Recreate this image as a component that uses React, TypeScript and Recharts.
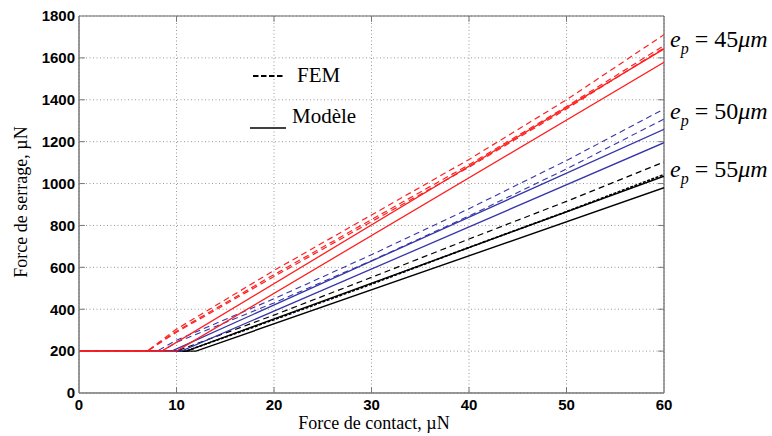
import { LineChart, Line, XAxis, YAxis, CartesianGrid, ReferenceLine } from 'recharts';

const xTicks = [0, 10, 20, 30, 40, 50, 60];
const yTicks = [0, 200, 400, 600, 800, 1000, 1200, 1400, 1600, 1800];

// [force de contact, force de serrage] in µN
// e_p = 45 µm
const fem45a = [[0, 200], [7, 200], [10, 305], [20, 585], [30, 850], [40, 1115], [50, 1400], [60, 1711]];
const fem45b = [[0, 200], [7, 200], [10, 295], [20, 565], [30, 828], [40, 1090], [50, 1368], [60, 1659]];
const fem45c = [[0, 200], [7, 200], [10, 290], [20, 556], [30, 818], [40, 1078], [50, 1356], [60, 1648]];
const mod45a = [[0, 200], [8.5, 200], [60, 1643]];
const mod45b = [[0, 200], [10, 200], [60, 1579]];

// e_p = 50 µm
const fem50a = [[0, 200], [8, 200], [10, 252], [20, 450], [30, 660], [40, 880], [50, 1110], [60, 1356]];
const fem50b = [[0, 200], [8.5, 200], [10, 242], [20, 430], [30, 632], [40, 845], [50, 1070], [60, 1308]];
const mod50a = [[0, 200], [9.5, 200], [60, 1259]];
const mod50b = [[0, 200], [10.5, 200], [60, 1195]];

// e_p = 55 µm
const fem55a = [[0, 200], [10, 200], [20, 372], [30, 552], [40, 735], [50, 915], [60, 1103]];
const fem55b = [[0, 200], [11, 200], [20, 350], [30, 520], [40, 695], [50, 866], [60, 1043]];
const mod55a = [[0, 200], [11, 200], [60, 1035]];
const mod55b = [[0, 200], [12, 200], [60, 980]];

const RED = '#ff1f1f';
const BLUE = '#3535aa';
const BLACK = '#000000';

const toPts = (arr: number[][]) => arr.map(([x, y]) => ({ x, y }));

const series = [
  { key: 'mod55b', data: mod55b, color: BLACK, dash: undefined, w: 1.4 },
  { key: 'mod55a', data: mod55a, color: BLACK, dash: undefined, w: 1.4 },
  { key: 'fem55b', data: fem55b, color: BLACK, dash: '3 1.5', w: 1.7 },
  { key: 'fem55a', data: fem55a, color: BLACK, dash: '6 4', w: 1.2 },
  { key: 'mod50b', data: mod50b, color: BLUE, dash: undefined, w: 1.3 },
  { key: 'mod50a', data: mod50a, color: BLUE, dash: undefined, w: 1.3 },
  { key: 'fem50b', data: fem50b, color: BLUE, dash: '6 4', w: 1.1 },
  { key: 'fem50a', data: fem50a, color: BLUE, dash: '6 4', w: 1.1 },
  { key: 'mod45b', data: mod45b, color: RED, dash: undefined, w: 1.3 },
  { key: 'mod45a', data: mod45a, color: RED, dash: undefined, w: 1.3 },
  { key: 'fem45c', data: fem45c, color: RED, dash: '6 4', w: 1.2 },
  { key: 'fem45b', data: fem45b, color: RED, dash: '6 4', w: 1.2 },
  { key: 'fem45a', data: fem45a, color: RED, dash: '6 4', w: 1.2 },
];

const tickStyle = { fontFamily: 'Liberation Sans, Arial, sans-serif', fontWeight: 700, fontSize: 15, fill: '#000' };
const serif = 'Liberation Serif, Times New Roman, serif';

function EpLabel({ y, value }: { y: number; value: string }) {
  return (
    <text x={670} y={y} fontFamily={serif} fontSize={24} fill="#000">
      <tspan fontStyle="italic">e</tspan>
      <tspan fontStyle="italic" fontSize={16} dy={7}>p</tspan>
      <tspan dy={-7}>{' = ' + value}</tspan>
      <tspan fontStyle="italic">{'\u03bcm'}</tspan>
    </text>
  );
}

export default function App() {
  return (
    <div style={{ position: 'absolute', left: 0, top: 0, width: 772, height: 436, background: '#fff' }}>
      <LineChart width={772} height={436} margin={{ top: 16, right: 108, bottom: 13, left: 19 }}>
        <CartesianGrid stroke="#999" strokeDasharray="1 2.5" />
        <XAxis
          type="number"
          dataKey="x"
          domain={[0, 60]}
          ticks={xTicks}
          allowDataOverflow
          tick={tickStyle}
          tickSize={0}
          tickMargin={6}
          height={30}
          axisLine={{ stroke: '#777', strokeWidth: 1.5 }}
        />
        <YAxis
          type="number"
          domain={[0, 1800]}
          ticks={yTicks}
          allowDataOverflow
          tick={tickStyle}
          tickSize={0}
          tickMargin={4}
          width={60}
          axisLine={{ stroke: '#777', strokeWidth: 1.5 }}
        />
        <ReferenceLine y={1800} stroke="#666" strokeWidth={1.2} />
        <ReferenceLine x={60} stroke="#666" strokeWidth={1.2} />
        {yTicks.slice(1, -1).map((v) => (
          <ReferenceLine key={'l' + v} segment={[{ x: 0, y: v }, { x: 0.6, y: v }]} stroke="#777" />
        ))}
        {yTicks.slice(1, -1).map((v) => (
          <ReferenceLine key={'r' + v} segment={[{ x: 59.4, y: v }, { x: 60, y: v }]} stroke="#777" />
        ))}
        {xTicks.slice(1, -1).map((v) => (
          <ReferenceLine key={'b' + v} segment={[{ x: v, y: 0 }, { x: v, y: 28 }]} stroke="#777" />
        ))}
        {xTicks.slice(1, -1).map((v) => (
          <ReferenceLine key={'t' + v} segment={[{ x: v, y: 1772 }, { x: v, y: 1800 }]} stroke="#777" />
        ))}
        {series.map((s) => (
          <Line
            key={s.key}
            data={toPts(s.data)}
            dataKey="y"
            type="linear"
            stroke={s.color}
            strokeWidth={s.w}
            strokeDasharray={s.dash}
            dot={false}
            activeDot={false}
            isAnimationActive={false}
          />
        ))}
      </LineChart>
      <svg width={772} height={436} style={{ position: 'absolute', left: 0, top: 0, pointerEvents: 'none' }}>
        <line x1={253} y1={76} x2={284} y2={76} stroke="#000" strokeWidth={2} strokeDasharray="5.5 2.5" />
        <text x={297} y={82} fontFamily={serif} fontSize={21} fill="#000">FEM</text>
        <line x1={250} y1={128} x2={286} y2={128} stroke="#000" strokeWidth={1.3} />
        <text x={292} y={123} fontFamily={serif} fontSize={21} fill="#000">Modèle</text>
        <EpLabel y={47} value="45" />
        <EpLabel y={119} value="50" />
        <EpLabel y={177} value="55" />
        <text x={374} y={429} textAnchor="middle" fontFamily={serif} fontSize={18} fill="#000">
          Force de contact, µN
        </text>
        <text
          x={0}
          y={0}
          transform="translate(27 202) rotate(-90)"
          textAnchor="middle"
          fontFamily={serif}
          fontSize={18}
          fill="#000"
        >
          Force de serrage, µN
        </text>
      </svg>
    </div>
  );
}
